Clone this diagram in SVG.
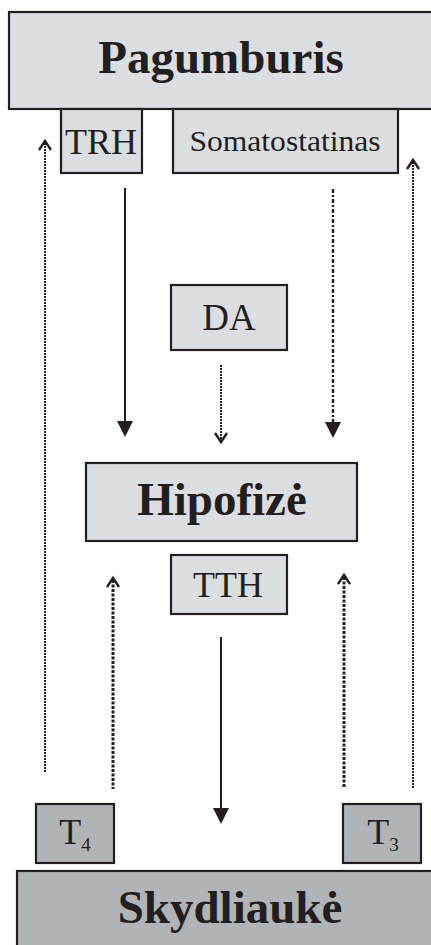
<svg xmlns="http://www.w3.org/2000/svg" width="431" height="945" viewBox="0 0 431 945">
  <style>
    .light { fill: #dcdde0; stroke: #231f20; stroke-width: 2.2; }
    .dark { fill: #b2b3b6; stroke: #231f20; stroke-width: 2.2; }
    .title { font-family: "Liberation Serif", "Times New Roman", serif; font-weight: bold; font-size: 47px; fill: #231f20; text-anchor: middle; }
    .label { font-family: "Liberation Serif", "Times New Roman", serif; fill: #231f20; text-anchor: middle; }
    .solid { stroke: #231f20; stroke-width: 2; fill: none; }
    .dotted-fine { stroke: #231f20; stroke-width: 2; stroke-dasharray: 2 1; fill: none; }
    .dotted-bold { stroke: #231f20; stroke-width: 3; stroke-dasharray: 3 1.5; fill: none; }
    .dashdot { stroke: #231f20; stroke-width: 2.4; stroke-dasharray: 4 2 2 2; fill: none; }
    .chevron { stroke: #231f20; stroke-width: 2.4; fill: none; }
    .head { fill: #231f20; }
  </style>

  <!-- Hypothalamus with its two releasing hormones -->
  <g id="pagumburis">
    <rect class="light" x="9" y="12" width="440" height="97"/>
    <text class="title" x="221" y="73">Pagumburis</text>
  </g>
  <g id="trh">
    <rect class="light" x="61" y="109" width="81" height="64"/>
    <text class="label" x="101" y="154" font-size="36">TRH</text>
  </g>
  <g id="somatostatinas">
    <rect class="light" x="173" y="109" width="225" height="64"/>
    <text class="label" x="285" y="151" font-size="30" textLength="191" lengthAdjust="spacingAndGlyphs">Somatostatinas</text>
  </g>

  <g id="da">
    <rect class="light" x="171" y="285" width="116" height="65"/>
    <text class="label" x="229" y="330" font-size="37">DA</text>
  </g>

  <!-- Pituitary -->
  <g id="hipofize">
    <rect class="light" x="86" y="463" width="271" height="78"/>
    <text class="title" x="222" y="515">Hipofizė</text>
  </g>
  <g id="tth">
    <rect class="light" x="171" y="555" width="116" height="59"/>
    <text class="label" x="228" y="597" font-size="36">TTH</text>
  </g>

  <!-- Thyroid hormones -->
  <g id="t4">
    <rect class="dark" x="36" y="804" width="78" height="59"/>
    <text class="label" x="75" y="844" font-size="36">T<tspan font-size="19" dy="7">4</tspan></text>
  </g>
  <g id="t3">
    <rect class="dark" x="343" y="804" width="78" height="59"/>
    <text class="label" x="383" y="844" font-size="36">T<tspan font-size="19" dy="7">3</tspan></text>
  </g>

  <!-- Thyroid -->
  <g id="skydliauke">
    <rect class="dark" x="17" y="871" width="430" height="90"/>
    <text class="title" x="230" y="923">Skydliaukė</text>
  </g>

  <g id="connectors">
    <!-- stimulating pathways (solid) -->
    <line class="solid" x1="125" y1="188" x2="125" y2="424"/>
    <polygon class="head" points="117,421 133,421 125,437"/>
    <line class="solid" x1="221" y1="637" x2="221" y2="811"/>
    <polygon class="head" points="213,808 229,808 221,824"/>

    <!-- somatostatin inhibition (dash-dot) -->
    <line class="dashdot" x1="333" y1="189" x2="333" y2="425"/>
    <polygon class="head" points="325,422 341,422 333,438"/>

    <!-- dopamine inhibition -->
    <line class="dotted-fine" x1="221" y1="365" x2="221" y2="440"/>
    <polyline class="chevron" points="215,433 221,442 227,433"/>

    <!-- long feedback loops to the hypothalamus -->
    <line class="dotted-fine" x1="45" y1="143" x2="45" y2="773"/>
    <polyline class="chevron" points="39,150 45,141 51,150"/>
    <line class="dotted-fine" x1="413" y1="162" x2="413" y2="789"/>
    <polyline class="chevron" points="407,169 413,160 419,169"/>

    <!-- short feedback loops to the pituitary -->
    <line class="dotted-bold" x1="113" y1="580" x2="113" y2="789"/>
    <polyline class="chevron" points="107,587 113,578 119,587"/>
    <line class="dotted-bold" x1="344" y1="577" x2="344" y2="787"/>
    <polyline class="chevron" points="338,584 344,575 350,584"/>
  </g>
</svg>
